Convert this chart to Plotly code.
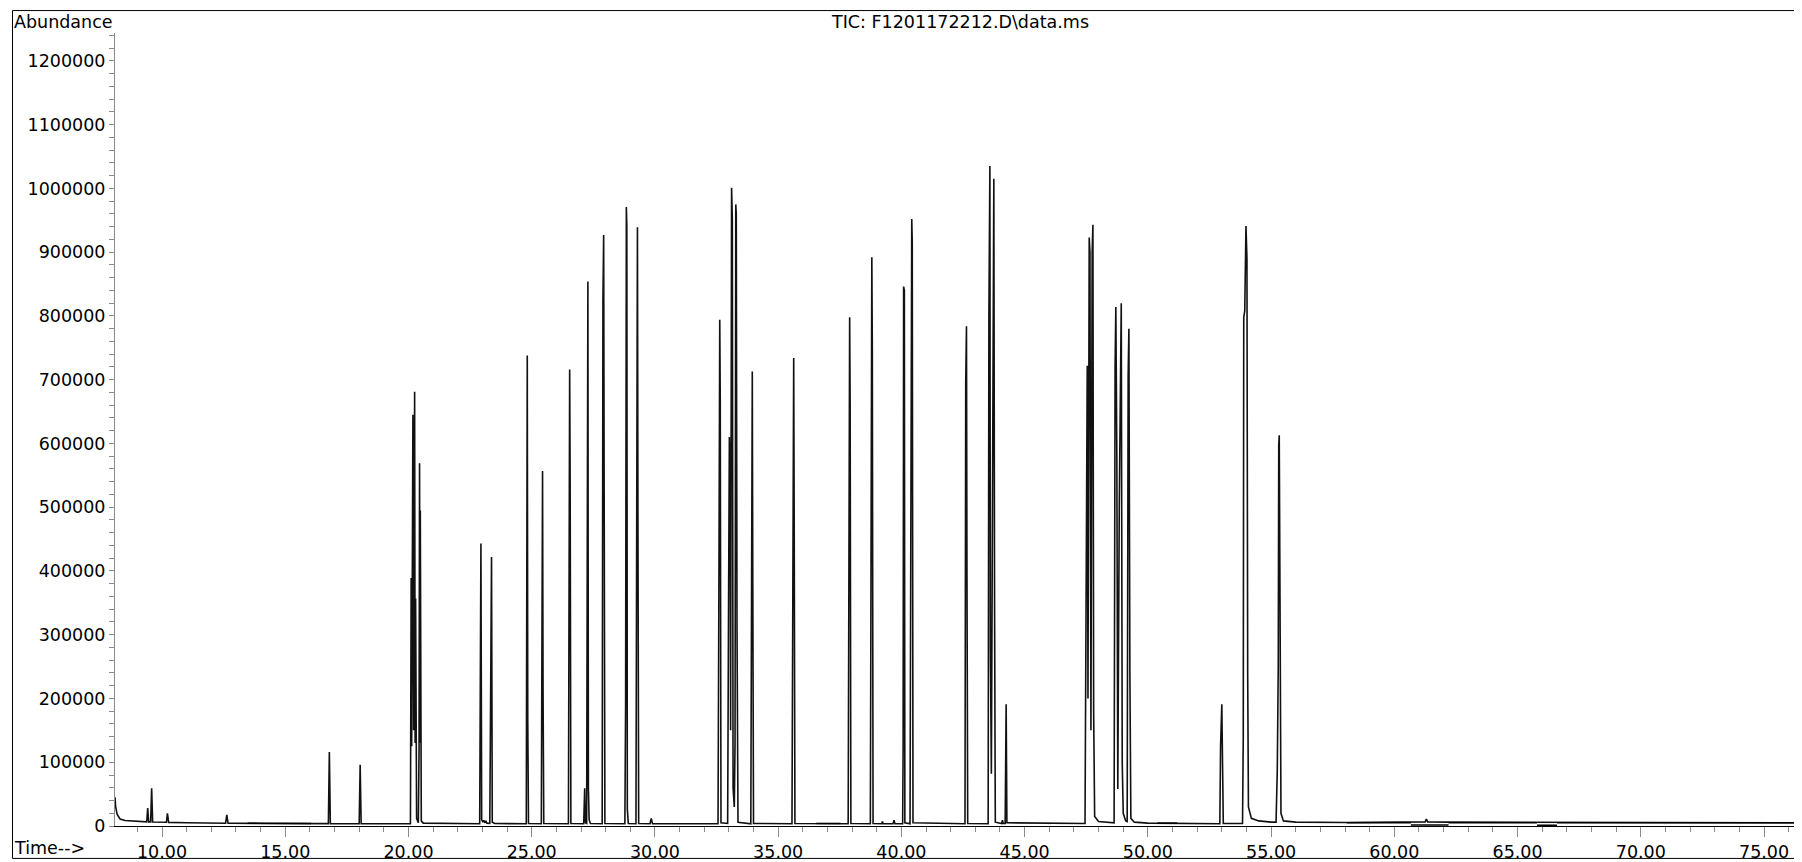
import plotly.graph_objects as go

# Retention time (min) and abundance of the TIC trace
rt_min = [
    8.093, 8.12, 8.18, 8.30, 8.50, 9.00, 9.38, 9.42, 9.46, 9.54, 9.58, 9.62,
    10.00, 10.18, 10.22, 10.27, 11.00, 12.00, 12.58, 12.63, 12.68, 14.00, 16.00,
    16.75, 16.79, 16.83, 18.00, 18.04, 18.08,
    20.08, 20.11, 20.13, 20.18, 20.21, 20.25, 20.27, 20.29, 20.33, 20.40, 20.43, 20.45, 20.47, 20.48, 20.52, 20.60,
    22.89, 22.94, 22.97, 23.02, 23.06, 23.10, 23.14, 23.18, 23.30, 23.33, 23.35, 23.37, 23.40, 23.50,
    24.78, 24.82, 24.84, 24.87,
    25.39, 25.42, 25.44, 25.46, 25.49,
    26.49, 26.52, 26.54, 26.56, 26.59,
    27.11, 27.15, 27.18, 27.23, 27.25, 27.28, 27.30, 27.33, 27.38,
    27.86, 27.89, 27.92, 27.94, 27.97,
    28.78, 28.81, 28.84, 28.86, 28.88, 28.92,
    29.23, 29.26, 29.29, 29.31, 29.34,
    29.80, 29.85, 29.90,
    32.56, 32.60, 32.63, 32.65, 32.68,
    32.95, 32.99, 33.02, 33.05, 33.07, 33.11, 33.14, 33.17, 33.22, 33.25, 33.28, 33.30, 33.33, 33.37,
    33.89, 33.93, 33.95, 33.97, 34.00,
    35.56, 35.60, 35.63, 35.65, 35.68,
    37.84, 37.87, 37.90, 37.92, 37.95,
    38.74, 38.77, 38.80, 38.82, 38.85,
    39.20, 39.23, 39.26, 39.66, 39.70, 39.74,
    40.05, 40.07, 40.09, 40.12, 40.14,
    40.35, 40.38, 40.42, 40.44, 40.47,
    42.58, 42.61, 42.64, 42.66, 42.69,
    43.52, 43.55, 43.59, 43.61, 43.65, 43.71, 43.75, 43.78, 43.81,
    44.07, 44.10, 44.13, 44.21, 44.25, 44.28,
    47.45, 47.50, 47.54, 47.57, 47.62, 47.65, 47.69, 47.74, 47.77, 47.80, 47.84, 48.00, 48.40,
    48.63, 48.67, 48.70, 48.74, 48.78, 48.84, 48.88, 48.92, 48.96, 49.00, 49.10, 49.16,
    49.20, 49.23, 49.27, 49.31, 49.45, 50.00,
    52.92, 52.95, 53.00, 53.03, 53.06,
    53.84, 53.87, 53.89, 53.93, 53.98, 54.02, 54.05, 54.08, 54.20, 54.50, 55.00,
    55.20, 55.25, 55.29, 55.31, 55.33, 55.36, 55.40, 55.50, 56.00, 58.00,
    61.25, 61.30, 61.35, 62.20, 66.00, 76.54,
]
abundance = [
    45000, 30000, 18000, 11000, 8500, 7000, 6500, 28000, 6500, 6400, 59000, 6300,
    6000, 5800, 20000, 5700, 5000, 4600, 4400, 17500, 4300, 4000, 3800,
    3700, 116000, 3700, 3600, 96000, 3600,
    3500, 389000, 125000, 645000, 150000, 681000, 130000, 357000, 12000, 5000, 120000, 569000, 130000, 495000, 8000, 4500,
    3500, 443000, 10000, 6000, 9000, 5000, 8000, 4500, 4000, 163000, 324000, 422000, 6000, 4000,
    3500, 738000, 166000, 4000,
    3500, 521000, 557000, 217000, 4000,
    3500, 513000, 716000, 540000, 4000,
    3500, 59000, 5000, 4000, 360000, 854000, 60000, 10000, 4000,
    3500, 824000, 927000, 524000, 4000,
    3500, 191000, 971000, 940000, 26000, 4000,
    3500, 435000, 939000, 492000, 4000,
    3500, 12000, 3500,
    3500, 432000, 794000, 669000, 5000,
    4000, 372000, 610000, 560000, 150000, 1001000, 951000, 60000, 30000, 130000, 975000, 960000, 311000, 6000,
    3500, 629000, 713000, 378000, 4000,
    3500, 590000, 734000, 484000, 4000,
    3500, 537000, 798000, 664000, 4000,
    3500, 561000, 892000, 746000, 4000,
    3500, 7000, 3500, 3500, 9000, 3500,
    3500, 120000, 846000, 840000, 5000,
    3500, 432000, 952000, 915000, 5000,
    3500, 695000, 784000, 392000, 4000,
    3500, 802000, 1035000, 275000, 82000, 701000, 1015000, 346000, 6000,
    4000, 9000, 4000, 4000, 191000, 5000,
    4000, 493000, 722000, 200000, 923000, 900000, 150000, 900000, 943000, 179000, 15000, 7000, 5000,
    5000, 718000, 814000, 585000, 58000, 504000, 726000, 820000, 98000, 20000, 8000, 7000,
    706000, 780000, 239000, 12000, 6000, 4500,
    3500, 126000, 191000, 30000, 4000,
    4000, 138000, 798000, 808000, 941000, 890000, 239000, 30000, 12000, 8000, 6000,
    6000, 86000, 250000, 598000, 613000, 364000, 20000, 8000, 6000, 5500,
    6500, 11000, 6500, 6000, 5500, 5000,
]

# Integration baseline segments drawn in black (None separates segments)
seg_rt = [13.48, 16.05, None, 36.55, 37.53, None, 50.38, 51.19, None,
          58.07, 60.67, None, 60.67, 62.20, None, 62.20, 65.79, None,
          65.79, 66.60, None, 66.60, 76.54]
seg_abund = [4200, 4000, None, 4000, 4000, None, 4500, 4500, None,
             5000, 5000, None, 1500, 1500, None, 5000, 5000, None,
             1200, 1200, None, 5000, 5000]

FONT = "DejaVu Sans"
FS = 17.5
OFF = 8  # page body margin: figure starts at (8, 8) in the window
W, H = 1802 - OFF, 862 - OFF
# plot area in window pixels: x 115..1802, y 33..828
L, R, T = 115 - OFF, 0, 33 - OFF
B = H - (828 - OFF)
PW = W - L - R
PH = H - T - B


def px(x):  # window pixel -> paper x
    return (x - OFF - L) / PW


def py(y):  # window pixel -> paper y
    return (H - B - (y - OFF)) / PH


fig = go.Figure()
fig.add_trace(go.Scatter(x=rt_min, y=abundance, mode="lines",
                         line=dict(color="#111111", width=1.6), hoverinfo="skip",
                         showlegend=False))
fig.add_trace(go.Scatter(x=seg_rt, y=seg_abund, mode="lines",
                         line=dict(color="black", width=1.5), hoverinfo="skip",
                         showlegend=False, connectgaps=False))

fig.update_layout(
    width=W, height=H,
    margin=dict(l=L, r=R, t=T, b=B, pad=0),
    paper_bgcolor="white", plot_bgcolor="white",
    font=dict(family=FONT, size=FS, color="black"),
    showlegend=False,
    xaxis=dict(
        range=[8.093, 76.54], tickmode="linear", tick0=0, dtick=5,
        tickformat=".2f", ticks="outside", ticklen=10, tickcolor="#8a8a8a",
        showline=True, linecolor="black", linewidth=1,
        showgrid=False, zeroline=False,
        minor=dict(tick0=0, dtick=1, ticks="outside", ticklen=5,
                   tickcolor="#8a8a8a", showgrid=False),
        tickfont=dict(family=FONT, size=FS, color="black"),
    ),
    yaxis=dict(
        range=[0, 1243800], tickmode="linear", tick0=0, dtick=100000,
        tickformat="d", ticks="outside", ticklen=5, tickcolor="#8a8a8a",
        showline=True, linecolor="#8a8a8a", linewidth=1,
        showgrid=False, zeroline=False,
        minor=dict(tick0=0, dtick=20000, ticks="outside", ticklen=5,
                   tickcolor="#8a8a8a", showgrid=False),
        tickfont=dict(family=FONT, size=FS, color="black"),
    ),
    shapes=[
        dict(type="rect", xref="paper", yref="paper",
             x0=px(12.5), x1=px(1830), y0=py(860.5), y1=py(10.5),
             line=dict(color="black", width=1), fillcolor="rgba(0,0,0,0)",
             layer="above"),
    ],
    annotations=[
        dict(text="Abundance", xref="paper", yref="paper", x=px(12), y=py(22),
             xanchor="left", yanchor="middle", showarrow=False,
             font=dict(family=FONT, size=FS, color="black")),
        dict(text="TIC: F1201172212.D\\data.ms", xref="paper", yref="paper",
             x=px(960), y=py(22), xanchor="center", yanchor="middle",
             showarrow=False, font=dict(family=FONT, size=FS, color="black")),
        dict(text="Time-->", xref="paper", yref="paper", x=px(12), y=py(850),
             xanchor="left", yanchor="middle", showarrow=False,
             font=dict(family=FONT, size=FS, color="black")),
    ],
)

fig.write_html("out.html")
